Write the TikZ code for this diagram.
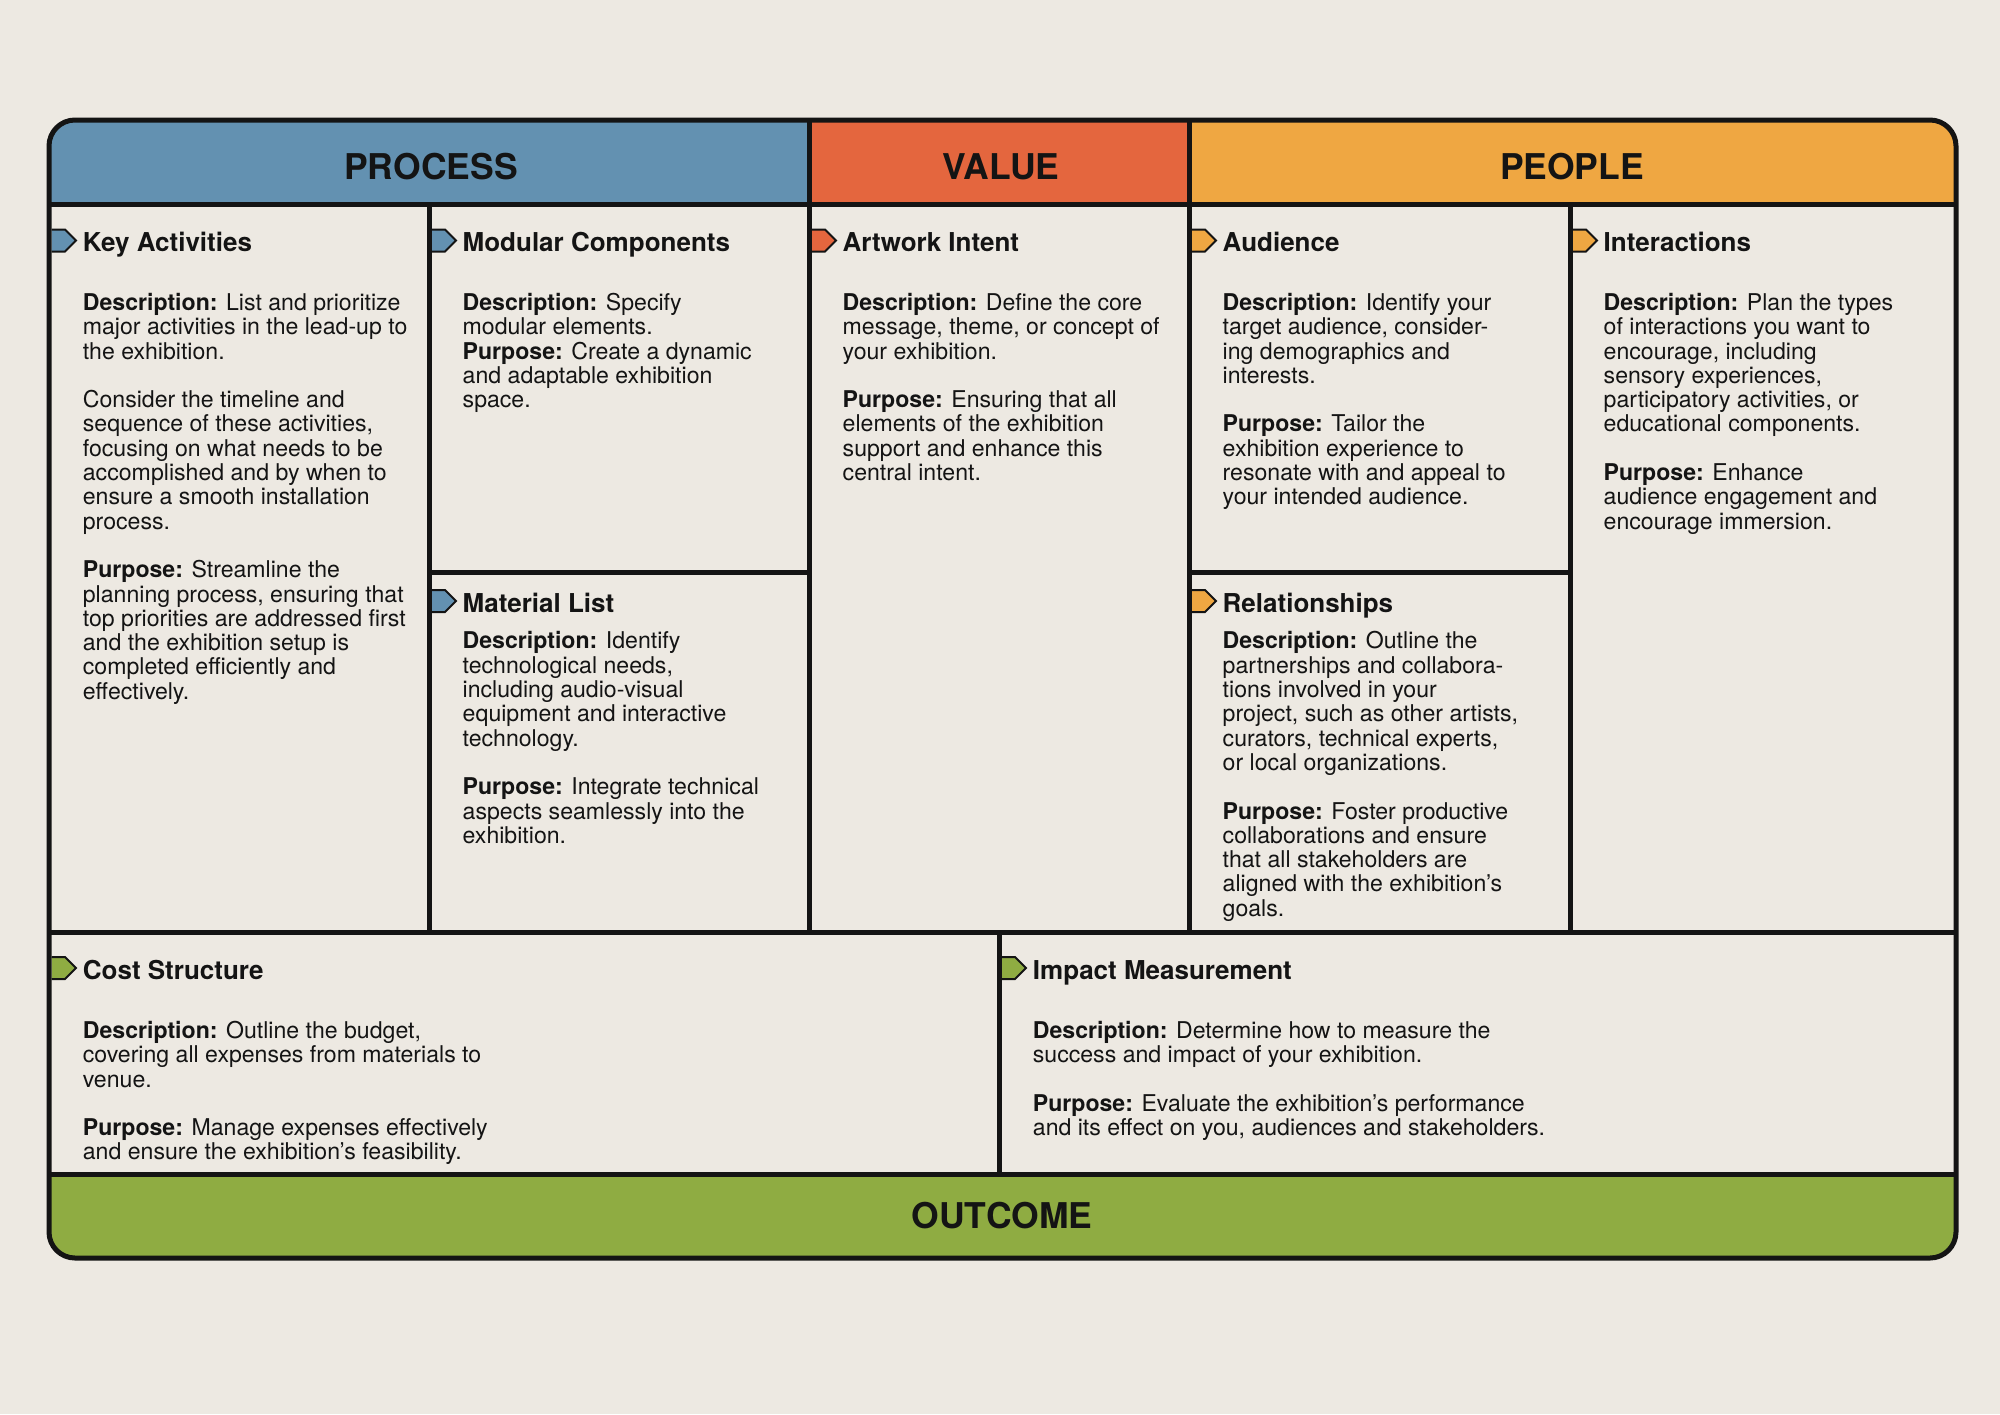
\documentclass[tikz,border=0pt]{standalone}
\usepackage{fontspec}
\setmainfont{TeX Gyre Heros}
\definecolor{bg}{HTML}{EDE9E2}
\definecolor{pblue}{HTML}{6391B1}
\definecolor{vred}{HTML}{E4663E}
\definecolor{porange}{HTML}{EFA742}
\definecolor{ogreen}{HTML}{8FAC42}
\definecolor{ink}{HTML}{141414}
\newcommand\mktag[3]{%
  \fill[#1] ({#2+2.5},{#3-11}) -- ({#2+16},{#3-11}) -- ({#2+27},{#3}) -- ({#2+16},{#3+11}) -- ({#2+2.5},{#3+11}) -- cycle;
  \draw[ink,line width=2pt,line join=miter] ({#2+2.5},{#3-11}) -- ({#2+16},{#3-11}) -- ({#2+27},{#3}) -- ({#2+16},{#3+11}) -- ({#2+2.5},{#3+11});}
\begin{document}
\begin{tikzpicture}[x=1pt,y=-1pt,
  frame/.style={line width=5pt, draw=ink},
  hdr/.style={font=\fontsize{35.5}{40}\selectfont\bfseries, anchor=base, inner sep=0pt, text=ink},
  ttl/.style={font=\fontsize{26}{30}\selectfont\bfseries, anchor=base west, inner sep=0pt, text=ink},
  body/.style={font=\fontsize{23.1}{24.3}\selectfont, anchor=north west, inner sep=0pt, align=left, text=ink}]
\useasboundingbox (0,0) rectangle (2000,1414);
\fill[bg] (0,0) rectangle (2000,1414);
\begin{scope}
  \clip[rounded corners=26pt] (49,120) rectangle (1956,1258);
  \fill[pblue] (49,120) rectangle (809,204);
  \fill[vred] (809,120) rectangle (1189,204);
  \fill[porange] (1189,120) rectangle (1956,204);
  \fill[ogreen] (49,1174) rectangle (1956,1258);
\end{scope}
% headers
\node[hdr] (hp) at (431,179) {PROCESS};
\node[hdr] (hv) at (1001,179) {VALUE};
\node[hdr] (hpe) at (1572,179) {PEOPLE};
\node[hdr] (ho) at (1002,1228) {OUTCOME};
% tags
\mktag{pblue}{49}{240.5}
\mktag{pblue}{429}{240.5}
\mktag{pblue}{429}{601}
\mktag{vred}{809}{240.5}
\mktag{porange}{1189}{240.5}
\mktag{porange}{1189}{601}
\mktag{porange}{1570}{240.5}
\mktag{ogreen}{49}{968}
\mktag{ogreen}{999}{968}
% titles
\node[ttl] (tka) at (82.7,251.7) {Key Activities};
\node[ttl] (tmc) at (462.5,251.7) {Modular Components};
\node[ttl] (tml) at (462.5,612) {Material List};
\node[ttl] (tai) at (842.5,251.7) {Artwork Intent};
\node[ttl] (tau) at (1222.5,251.7) {Audience};
\node[ttl] (tre) at (1222.5,612) {Relationships};
\node[ttl] (tin) at (1603.5,251.7) {Interactions};
\node[ttl] (tcs) at (82.7,979) {Cost Structure};
\node[ttl] (tim) at (1032.7,979) {Impact Measurement};
% bodies
\node[body] (bka) at (82.7,293) {\strut\textbf{Description:} List and prioritize\\
major activities in the lead-up to\\
the exhibition.\\[24.3pt]
Consider the timeline and\\
sequence of these activities,\\
focusing on what needs to be\\
accomplished and by when to\\
ensure a smooth installation\\
process.\\[24.3pt]
\textbf{Purpose:} Streamline the\\
planning process, ensuring that\\
top priorities are addressed first\\
and the exhibition setup is\\
completed efficiently and\\
effectively.};
\node[body] (bmc) at (462.5,293) {\strut\textbf{Description:} Specify\\
modular elements.\\
\textbf{Purpose:} Create a dynamic\\
and adaptable exhibition\\
space.};
\node[body] (bml) at (462.5,631.5) {\strut\textbf{Description:} Identify\\
technological needs,\\
including audio-visual\\
equipment and interactive\\
technology.\\[24.3pt]
\textbf{Purpose:} Integrate technical\\
aspects seamlessly into the\\
exhibition.};
\node[body] (bai) at (842.5,293) {\strut\textbf{Description:} Define the core\\
message, theme, or concept of\\
your exhibition.\\[24.3pt]
\textbf{Purpose:} Ensuring that all\\
elements of the exhibition\\
support and enhance this\\
central intent.};
\node[body] (bau) at (1222.5,293) {\strut\textbf{Description:} Identify your\\
target audience, consider-\\
ing demographics and\\
interests.\\[24.3pt]
\textbf{Purpose:} Tailor the\\
exhibition experience to\\
resonate with and appeal to\\
your intended audience.};
\node[body] (bre) at (1222.5,631.5) {\strut\textbf{Description:} Outline the\\
partnerships and collabora-\\
tions involved in your\\
project, such as other artists,\\
curators, technical experts,\\
or local organizations.\\[24.3pt]
\textbf{Purpose:} Foster productive\\
collaborations and ensure\\
that all stakeholders are\\
aligned with the exhibition’s\\
goals.};
\node[body] (bin) at (1603.5,293) {\strut\textbf{Description:} Plan the types\\
of interactions you want to\\
encourage, including\\
sensory experiences,\\
participatory activities, or\\
educational components.\\[24.3pt]
\textbf{Purpose:} Enhance\\
audience engagement and\\
encourage immersion.};
\node[body] (bcs) at (82.7,1021) {\strut\textbf{Description:} Outline the budget,\\
covering all expenses from materials to\\
venue.\\[24.3pt]
\textbf{Purpose:} Manage expenses effectively\\
and ensure the exhibition's feasibility.};
\node[body] (bim) at (1032.7,1021) {\strut\textbf{Description:} Determine how to measure the\\
success and impact of your exhibition.\\[24.3pt]
\textbf{Purpose:} Evaluate the exhibition's performance\\
and its effect on you, audiences and stakeholders.};
% grid lines
\draw[frame] (49,204) -- (1956,204);
\draw[frame] (809,120) -- (809,932);
\draw[frame] (1189,120) -- (1189,932);
\draw[frame] (429,204) -- (429,932);
\draw[frame] (1570,204) -- (1570,932);
\draw[frame] (429,572) -- (809,572);
\draw[frame] (1189,572) -- (1570,572);
\draw[frame] (49,932) -- (1956,932);
\draw[frame] (999,932) -- (999,1174);
\draw[frame] (49,1174) -- (1956,1174);
\draw[frame, rounded corners=26pt] (49,120) rectangle (1956,1258);
\end{tikzpicture}
\end{document}
